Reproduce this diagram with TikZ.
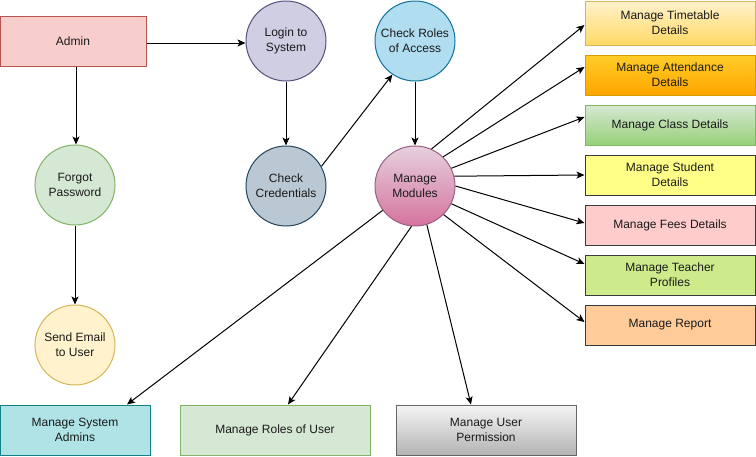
\documentclass[tikz,border=0pt]{standalone}
\usepackage{fontspec}
\setmainfont{Liberation Sans}
\usetikzlibrary{arrows.meta}
\definecolor{txt}{HTML}{1A1A1A}
\definecolor{cAdminF}{HTML}{F8CECC}\definecolor{cAdminD}{HTML}{B85450}
\definecolor{cGreenF}{HTML}{D5E8D4}\definecolor{cGreenD}{HTML}{82B366}
\definecolor{cYelF}{HTML}{FFF2CC}\definecolor{cYelD}{HTML}{D6B656}
\definecolor{cPurF}{HTML}{D0CEE2}\definecolor{cPurD}{HTML}{56517E}
\definecolor{cSlateF}{HTML}{BAC8D3}\definecolor{cSlateD}{HTML}{23445D}
\definecolor{cBlueF}{HTML}{B1DDF0}\definecolor{cBlueD}{HTML}{10739E}
\definecolor{cMagT}{HTML}{E6D0DE}\definecolor{cMagB}{HTML}{D5739D}\definecolor{cMagD}{HTML}{996185}
\definecolor{cTtB}{HTML}{FFD966}
\definecolor{cOrT}{HTML}{FFCD28}\definecolor{cOrB}{HTML}{FFA500}\definecolor{cOrD}{HTML}{D79B00}
\definecolor{cClB}{HTML}{97D077}
\definecolor{cDark}{HTML}{36393D}
\definecolor{cStF}{HTML}{FFFF88}
\definecolor{cFeeF}{HTML}{FFCCCC}
\definecolor{cTpF}{HTML}{CDEB8B}
\definecolor{cRepF}{HTML}{FFCC99}
\definecolor{cTealF}{HTML}{B0E3E6}\definecolor{cTealD}{HTML}{0E8088}
\definecolor{cGrT}{HTML}{F5F5F5}\definecolor{cGrB}{HTML}{B3B3B3}\definecolor{cGrD}{HTML}{666666}
\tikzset{
  base/.style={draw, line width=1pt, align=center, inner sep=0pt, text=txt,
    font=\fontsize{12}{15}\selectfont},
  box/.style={base, rectangle, minimum width=#1, minimum height=40pt},
  circ/.style={base, circle, minimum size=80pt},
  conn/.style={line width=1pt, -{Stealth[length=8pt,width=7pt,inset=2pt]}},
}
\begin{document}
\begin{tikzpicture}[x=1pt,y=-1pt]
\useasboundingbox (0,0) rectangle (756,456);
% left
\node[box=146pt, minimum height=50pt, fill=cAdminF, draw=cAdminD] (admin) at (73,41) {Admin};
\node[circ, fill=cGreenF, draw=cGreenD] (fp) at (75,185) {Forgot\\Password};
\node[circ, fill=cYelF, draw=cYelD] (se) at (75,345) {Send Email\\to User};
% middle
\node[circ, fill=cPurF, draw=cPurD] (login) at (286,41) {Login to\\System};
\node[circ, fill=cSlateF, draw=cSlateD] (cc) at (286,186) {Check\\Credentials};
\node[circ, fill=cBlueF, draw=cBlueD] (cr) at (415,41) {Check Roles\\of Access};
\node[circ, top color=cMagT, bottom color=cMagB, draw=cMagD] (mm) at (415,186) {Manage\\Modules};
% right column
\node[box=170pt, minimum height=44pt, top color=cYelF, bottom color=cTtB, draw=cYelD] (tt) at (670,23) {Manage Timetable\\Details};
\node[box=170pt, top color=cOrT, bottom color=cOrB, draw=cOrD] (att) at (670,75) {Manage Attendance\\Details};
\node[box=170pt, top color=cGreenF, bottom color=cClB, draw=cGreenD] (cl) at (670,125) {Manage Class Details};
\node[box=170pt, fill=cStF, draw=cDark] (st) at (670,175) {Manage Student\\Details};
\node[box=170pt, fill=cFeeF, draw=cDark] (fee) at (670,225) {Manage Fees Details};
\node[box=170pt, fill=cTpF, draw=cDark] (tp) at (670,275) {Manage Teacher\\Profiles};
\node[box=170pt, fill=cRepF, draw=cDark] (rep) at (670,325) {Manage Report};
% bottom row
\node[box=150pt, minimum height=50pt, fill=cTealF, draw=cTealD] (sa) at (75,430) {Manage System\\Admins};
\node[box=190pt, minimum height=50pt, fill=cGreenF, draw=cGreenD] (ru) at (275,430) {Manage Roles of User};
\node[box=180pt, minimum height=50pt, top color=cGrT, bottom color=cGrB, draw=cGrD] (up) at (486,430) {Manage User\\Permission};
% connectors
\draw[conn] ([yshift=-2pt]admin.east) -- ([yshift=-2pt]login.west);
\draw[conn] ([xshift=3pt]admin.south) -- ([xshift=1pt]fp.north);
\draw[conn] (fp) -- (se);
\draw[conn] (login) -- (cc);
\draw[conn] (cc.29) -- (cr.236);
\draw[conn] (cr) -- (mm);
\draw[conn] (mm.66) -- ([yshift=-2pt]tt.west);
\draw[conn] (mm.46) -- ([yshift=8pt]att.west);
\draw[conn] (mm.26) -- ([yshift=8pt]cl.west);
\draw[conn] (mm.14.5) -- (st.west);
\draw[conn] (mm.0) -- ([yshift=2pt]fee.west);
\draw[conn] (mm.334) -- ([yshift=11pt]tp.west);
\draw[conn] (mm.315) -- ([yshift=3pt]rep.west);
\draw[conn] (mm.217) -- ([xshift=52pt]sa.north);
\draw[conn] (mm.265) -- ([xshift=13pt]ru.north);
\draw[conn] (mm.287) -- ([xshift=-15pt]up.north);
\end{tikzpicture}
\end{document}
